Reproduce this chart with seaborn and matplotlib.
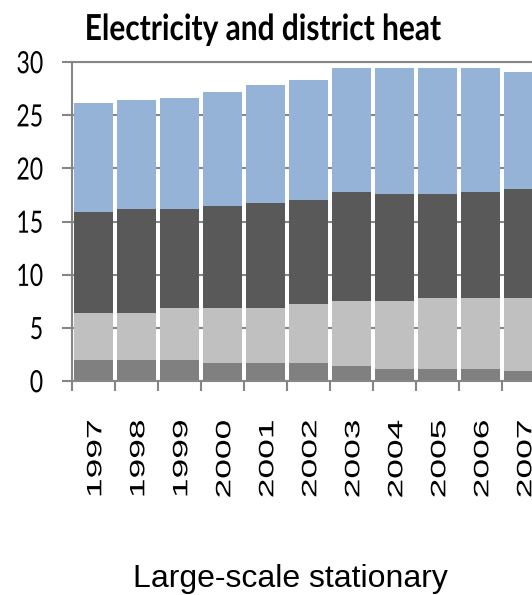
import numpy as np
import pandas as pd
import matplotlib
matplotlib.use("Agg")
import matplotlib.pyplot as plt
import seaborn as sns
from matplotlib.patheffects import AbstractPathEffect
from matplotlib.transforms import Affine2D, ScaledTranslation

# Category axis
years = ["1997", "1998", "1999", "2000", "2001", "2002",
         "2003", "2004", "2005", "2006", "2007"]

# Stack components, listed from the bottom of each bar upwards
layer_1 = [2.0, 2.0, 2.0, 1.7, 1.7, 1.7, 1.4, 1.1, 1.1, 1.1, 0.9]
layer_2 = [4.4, 4.4, 4.9, 5.2, 5.2, 5.5, 6.1, 6.4, 6.7, 6.7, 6.9]
layer_3 = [9.5, 9.8, 9.3, 9.6, 9.8, 9.8, 10.3, 10.1, 9.8, 10.0, 10.3]
layer_4 = [10.2, 10.2, 10.4, 10.7, 11.1, 11.3, 11.6, 11.8, 11.8, 11.6, 11.0]
layer_colors = ["#808080", "#C0C0C0", "#595959", "#95B3D7"]

y_ticks = [0, 5, 10, 15, 20, 25, 30]
chart_title = "Electricity and district heat"
x_title = "Large-scale stationary"

HUMANIST = ["Lato", "DejaVu Sans"]
SANS = ["Liberation Sans", "DejaVu Sans"]
AXIS_GREY = "#868686"


class StretchText(AbstractPathEffect):
    """Scale glyph outlines in text space about a chosen anchor."""

    def __init__(self, sx=1.0, sy=1.0, anchor_x="start", anchor_y="baseline"):
        super().__init__()
        self.sx, self.sy = sx, sy
        self.anchor_x, self.anchor_y = anchor_x, anchor_y

    def draw_path(self, renderer, gc, tpath, affine, rgbFace=None):
        ext = tpath.get_extents()
        px = {"start": 0.0, "center": 0.5 * (ext.x0 + ext.x1),
              "end": ext.x1}[self.anchor_x]
        py = {"baseline": 0.0, "center": 0.5 * (ext.y0 + ext.y1)}[self.anchor_y]
        stretch = (Affine2D().translate(-px, -py)
                   .scale(self.sx, self.sy).translate(px, py))
        renderer.draw_path(gc, tpath, stretch + affine, rgbFace)


sns.set_theme(style="white")
plt.rcParams["font.family"] = SANS
plt.rcParams["text.color"] = "black"
plt.rcParams["axes.labelcolor"] = "black"

W, H = 532, 595
fig = plt.figure(figsize=(W / 100, H / 100), dpi=100)
ax = fig.add_axes([72.3 / W, 214 / H, 473 / W, 319 / H])

df = pd.DataFrame({"year": years})
bottom = np.zeros(len(years))
for vals, col in zip([layer_1, layer_2, layer_3, layer_4], layer_colors):
    df["value"] = vals
    sns.barplot(data=df, x="year", y="value", color=col, saturation=1,
                width=0.9, bottom=bottom.copy(), linewidth=0,
                errorbar=None, ax=ax, zorder=2)
    bottom += np.asarray(vals)

# Value axis
ax.set_ylim(0, 30)
ax.set_yticks(y_ticks)
ax.yaxis.grid(True, color=AXIS_GREY, linewidth=1.5, zorder=0)
ax.set_axisbelow(True)
ax.tick_params(axis="y", left=True, direction="out", length=7, width=1.5,
               color=AXIS_GREY, pad=14, labelsize=16.6, labelcolor="black")
for lbl in ax.get_yticklabels():
    lbl.set_fontfamily(HUMANIST)
    lbl.set_path_effects([StretchText(sy=1.33, anchor_y="center")])

# Category axis: tick marks between categories, labels at centres
ax.set_xlim(-0.5, len(years) - 0.5)
ax.set_xticks(np.arange(len(years)))
ax.set_xticklabels(years)
ax.set_xticks(np.arange(-0.5, len(years)), minor=True)
ax.tick_params(axis="x", which="minor", bottom=True, direction="out",
               length=7, width=1.5, color=AXIS_GREY)
ax.tick_params(axis="x", which="major", bottom=True, length=0, pad=28,
               labelsize=15, labelrotation=90, labelcolor="black")
shift = ScaledTranslation(2 / 100, 0, fig.dpi_scale_trans)
for lbl in ax.get_xticklabels():
    lbl.set_fontfamily(SANS)
    lbl.set_transform(lbl.get_transform() + shift)
    lbl.set_path_effects([StretchText(sx=1.7, anchor_x="end")])

for side in ["left", "bottom", "top"]:
    ax.spines[side].set_visible(True)
    ax.spines[side].set_color(AXIS_GREY)
    ax.spines[side].set_linewidth(1.5)
ax.spines["right"].set_visible(False)

ax.set_ylabel("")
ax.set_xlabel(x_title, fontsize=23, family=SANS, va="baseline", color="black")
ax.xaxis.set_label_coords((290 - 72.3) / 473, (381 - 587) / 319)

fig.text(263 / W, 1 - 40 / H, chart_title, ha="center", va="baseline",
         fontsize=21.5, fontweight="bold", family=HUMANIST, color="black",
         path_effects=[StretchText(sy=1.2)])

fig.savefig("out.png", dpi=100)
